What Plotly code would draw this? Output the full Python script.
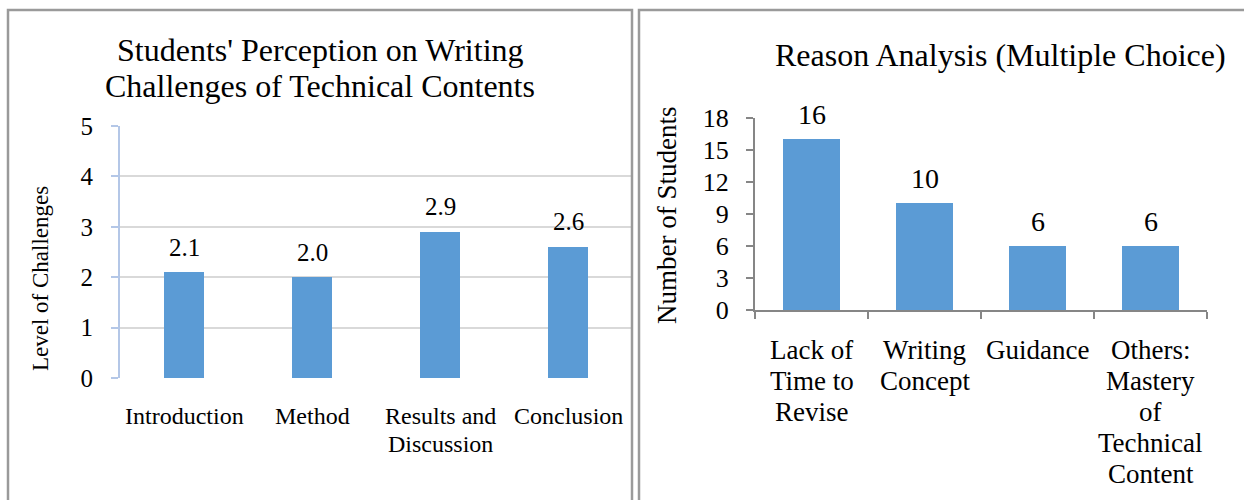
import plotly.graph_objects as go

# Left chart: perceived difficulty of each section
left_categories = ["Introduction", "Method", "Results and<br>Discussion", "Conclusion"]
left_values = [2.1, 2.0, 2.9, 2.6]
left_ticks = [0, 1, 2, 3, 4, 5]
left_title = ["Students' Perception on Writing", "Challenges of Technical Contents"]

# Right chart: reasons given (multiple choice)
right_categories = [
    "Lack of<br>Time to<br>Revise",
    "Writing<br>Concept",
    "Guidance",
    "Others:<br>Mastery<br>of<br>Technical<br>Content",
]
right_values = [16, 10, 6, 6]
right_ticks = [0, 3, 6, 9, 12, 15, 18]
right_title = "Reason Analysis (Multiple Choice)"

W, H = 1244, 500
FONT = "Liberation Serif"
BAR = "#5b9bd5"


def px(x):
    return x / W


def py(y):
    return 1 - y / H


def txt(size):
    return dict(family=FONT, size=size, color="black")


fig = go.Figure()

fig.add_trace(go.Bar(
    x=left_categories, y=left_values, xaxis="x", yaxis="y",
    marker=dict(color=BAR, line=dict(width=0)), width=0.31, showlegend=False,
))
fig.add_trace(go.Bar(
    x=right_categories, y=right_values, xaxis="x2", yaxis="y2",
    marker=dict(color=BAR, line=dict(width=0)), width=0.5, showlegend=False,
))

annotations = []

# Value labels above the bars
for c, v in zip(left_categories, left_values):
    annotations.append(dict(
        x=c, y=v, xref="x", yref="y", text=f"{v:.1f}", showarrow=False,
        yanchor="middle", yshift=25, font=txt(25),
    ))
for c, v in zip(right_categories, right_values):
    annotations.append(dict(
        x=c, y=v, xref="x2", yref="y2", text=f"{v:d}", showarrow=False,
        yanchor="middle", yshift=25, font=txt(28),
    ))

# Category labels, one line at a time for tighter line spacing
for c in left_categories:
    for i, line in enumerate(c.split("<br>")):
        annotations.append(dict(
            x=c, y=0, xref="x", yref="y", text=line, showarrow=False,
            yanchor="middle", yshift=-(38 + 28 * i), font=txt(24),
        ))
for c in right_categories:
    for i, line in enumerate(c.split("<br>")):
        annotations.append(dict(
            x=c, y=0, xref="x2", yref="y2", text=line, showarrow=False,
            yanchor="middle", yshift=-(40 + 31 * i), font=txt(27),
        ))

# Titles
for i, line in enumerate(left_title):
    annotations.append(dict(
        x=px(320), y=py(50 + 36 * i), xref="paper", yref="paper", showarrow=False,
        text=line, font=txt(32), xanchor="center", yanchor="middle",
    ))
annotations.append(dict(
    x=px(1000), y=py(55), xref="paper", yref="paper", showarrow=False,
    text=right_title, font=txt(32), xanchor="center", yanchor="middle",
))

# Axis titles
annotations.append(dict(
    x=px(40), y=py(279), xref="paper", yref="paper", showarrow=False,
    text="Level of Challenges", textangle=-90, font=txt(23),
    xanchor="center", yanchor="middle",
))
annotations.append(dict(
    x=px(667), y=py(216), xref="paper", yref="paper", showarrow=False,
    text="Number of Students", textangle=-90, font=txt(27),
    xanchor="center", yanchor="middle",
))

# Panel frames
frame = dict(color="#9a9a9a", width=2.5)
shapes = [
    dict(type="rect", xref="paper", yref="paper",
         x0=px(8), x1=px(632), y0=py(520), y1=py(10), line=frame),
    dict(type="rect", xref="paper", yref="paper",
         x0=px(639), x1=px(1270), y0=py(520), y1=py(10), line=frame),
]

fig.update_layout(
    width=W, height=H, autosize=False,
    margin=dict(l=0, r=0, t=0, b=0, autoexpand=False),
    paper_bgcolor="white", plot_bgcolor="white",
    font=dict(family=FONT, color="black"),
    bargap=0,
    annotations=annotations,
    shapes=shapes,
    xaxis=dict(
        domain=[px(120), px(632)], anchor="y", type="category",
        range=[-0.5, 3.5], showgrid=False, showline=False, zeroline=False,
        ticks="", showticklabels=False, automargin=False,
    ),
    yaxis=dict(
        domain=[py(378), py(126)], anchor="x", range=[0, 5],
        tickvals=left_ticks, showgrid=True, gridcolor="#d9d9d9", gridwidth=2,
        zeroline=False, showline=True, linecolor="#b4c7e7", linewidth=2,
        ticks="outside", ticklen=7, tickcolor="#b4c7e7", tickwidth=2,
        tickfont=txt(25), ticklabelstandoff=13, automargin=False,
    ),
    xaxis2=dict(
        domain=[px(755), px(1207)], anchor="y2", type="category",
        range=[-0.5, 3.5], showgrid=False, showline=True, linecolor="#868686",
        linewidth=2, zeroline=False, ticks="outside", tickson="boundaries",
        ticklen=7, tickcolor="#868686", tickwidth=2,
        showticklabels=False, automargin=False,
    ),
    yaxis2=dict(
        domain=[py(310), py(118)], anchor="x2", range=[0, 18],
        tickvals=right_ticks, showgrid=False, zeroline=False,
        showline=True, linecolor="#868686", linewidth=2,
        ticks="outside", ticklen=7, tickcolor="#868686", tickwidth=2,
        tickfont=txt(26), ticklabelstandoff=12, automargin=False,
    ),
)

fig.write_html("out.html")
